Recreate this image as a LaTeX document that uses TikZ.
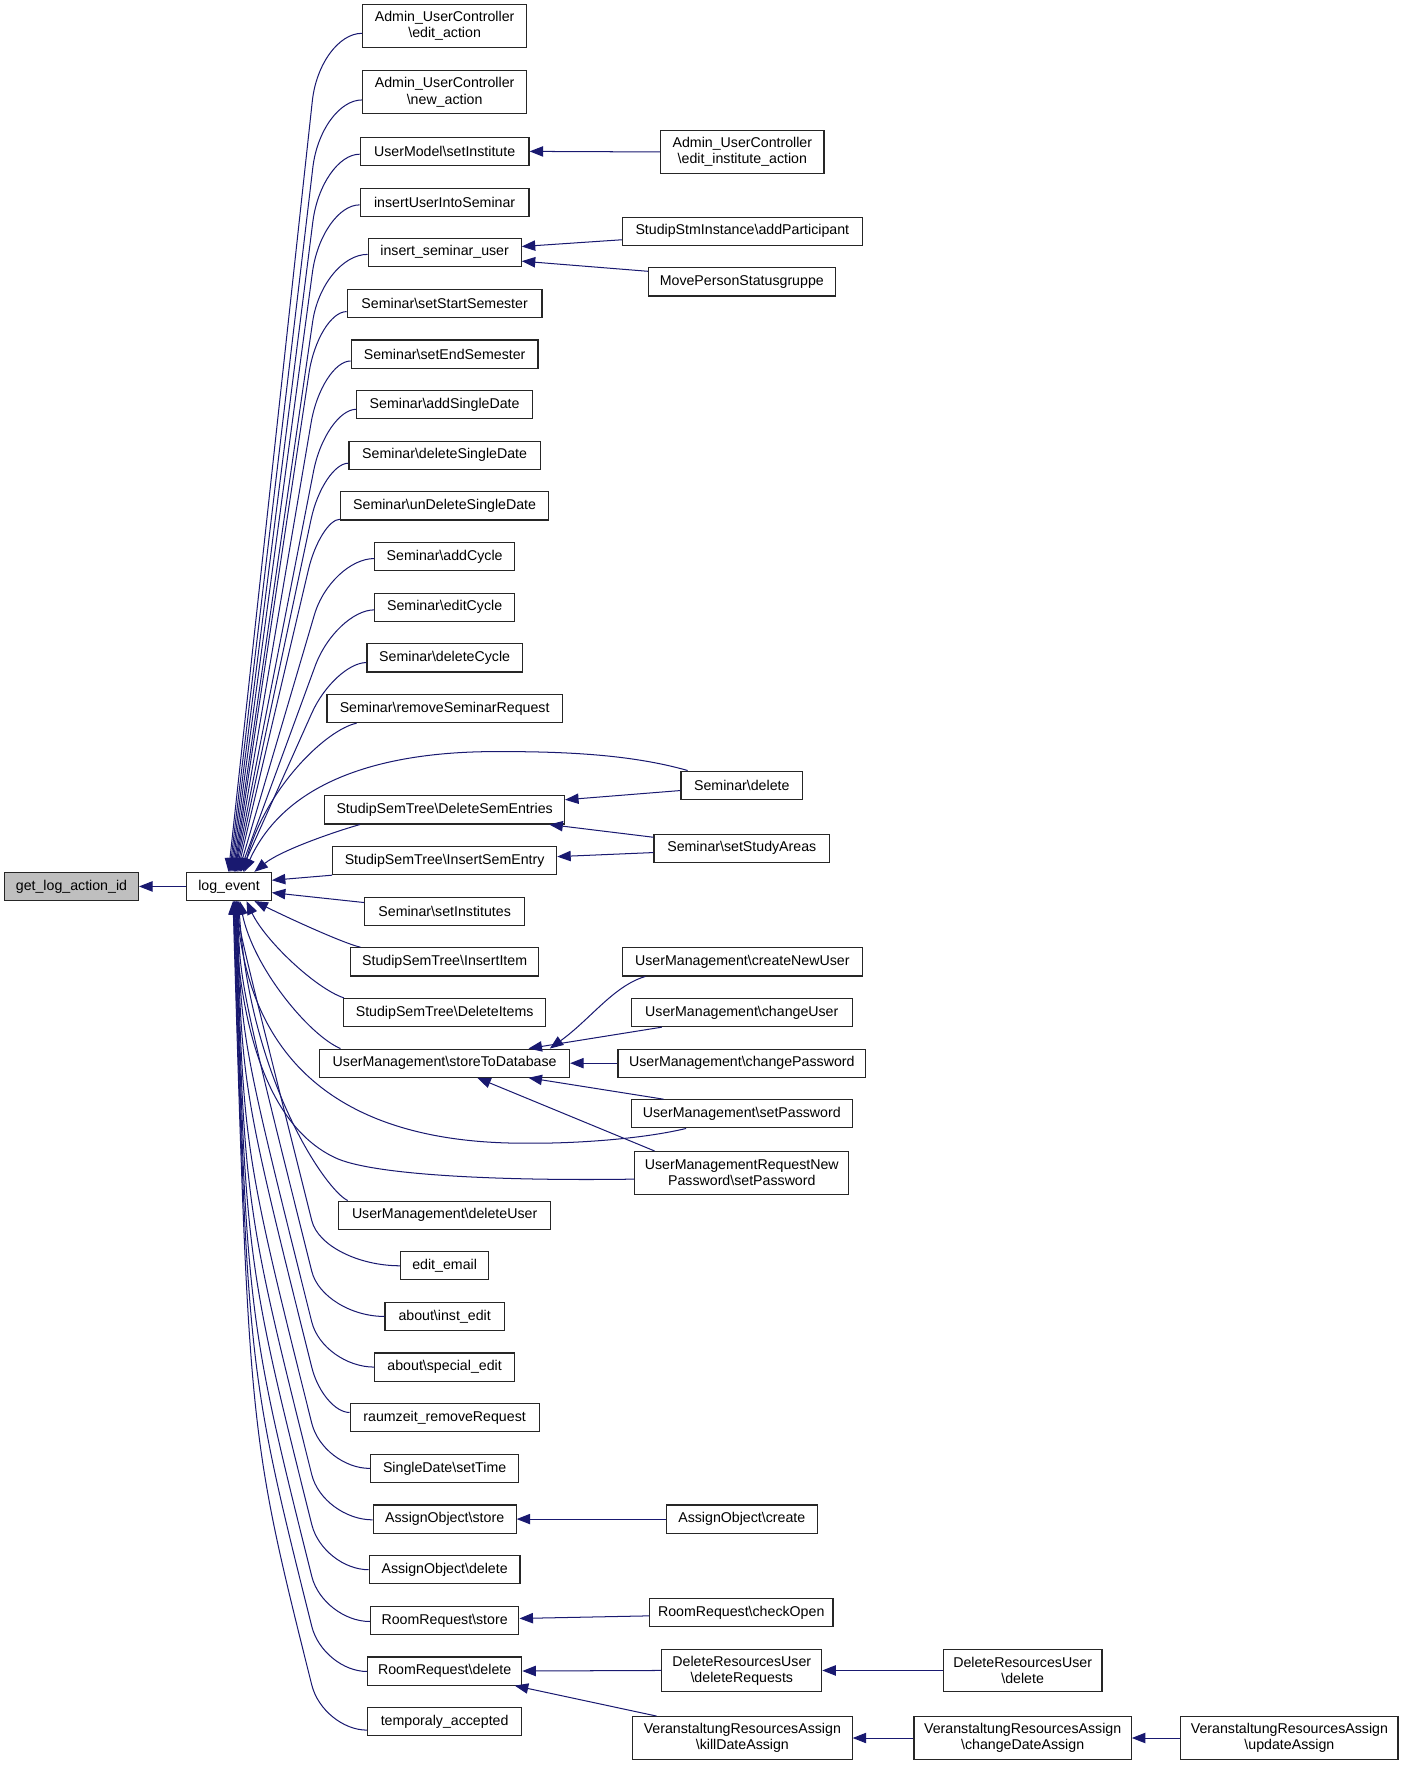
\documentclass[tikz,border=0pt]{standalone}
\usepackage{fontspec}
\newfontfamily\gf{Liberation Sans}
\usetikzlibrary{arrows.meta,calc}
\definecolor{mblue}{HTML}{191970}
\newcommand\bsl{\textbackslash}
% upper fan edge: #1 node, #2 y offset of start on west side, #3 Wx, #4 Wy, #5 Kx, #6 end offset on le.north, #7 bend height
\newcommand\ucurve[7]{%
  \pgfmathsetmacro\uEx{203.5+#6}%
  \pgfmathsetmacro\us{(#5-\uEx)/(775-#4)}%
  \pgfmathsetmacro\uBx{#5-\us*#7}%
  \pgfmathsetmacro\uBy{#4+#7}%
  \pgfmathsetmacro\uCa{#3+0.55*(#5-#3)}%
  \pgfmathsetmacro\uCbx{\uBx+0.55*(#5-\uBx)}%
  \pgfmathsetmacro\uCby{\uBy+0.55*(#4-\uBy)}%
  \draw[edge] ($(#1.west)+(0,#2)$) .. controls (\uCa,#4) and (\uCbx,\uCby) .. (\uBx,\uBy) -- ($(le.north)+(#6,0)$);%
}
% lower fan edge: #1 node, #2 y offset, #3 Wx, #4 Wy, #5 end offset on le.south
\newcommand\lcurve[5]{%
  \pgfmathsetmacro\lEx{203.5+#5}%
  \pgfmathsetmacro\lBx{287-0.25*40}%
  \pgfmathsetmacro\lBy{#4-40}%
  \pgfmathsetmacro\lCy{(\lEx-24-\lBx+0.25*\lBy)/0.22}%
  \pgfmathsetmacro\lCx{\lEx+0.03*(\lCy-800)}%
  \pgfmathsetmacro\lCa{#3+0.55*(287-#3)}%
  \pgfmathsetmacro\lCbx{\lBx+0.55*(287-\lBx)}%
  \pgfmathsetmacro\lCby{\lBy+0.55*(#4-\lBy)}%
  \draw[edge] ($(#1.west)+(0,#2)$) .. controls (\lCa,#4) and (\lCbx,\lCby) .. (\lBx,\lBy) .. controls (\lCx,\lCy) .. ($(le.south)+(#5,0)$);%
}
\begin{document}
\begin{tikzpicture}[x=0.5pt,y=-0.5pt,
 box/.style={draw=black!85, line width=0.5pt, fill=white, font=\gf\fontsize{6.3}{7.2}\selectfont, inner xsep=2pt, inner ysep=2.6pt, minimum height=12.5pt, align=center},
 bw/.style={minimum width=#1*0.5pt},
 two/.style={minimum height=19pt},
 edge/.style={draw=mblue, line width=0.45pt, -{Triangle[length=6pt,width=4.6pt]}}]
\useasboundingbox (0,0) rectangle (1248,1568);
% main nodes
\node[box,fill=gray!50,bw=119] (gl) at (63.5,787.5) {get\_log\_action\_id};
\node[box,bw=75] (le) at (203.5,787.5) {log\_event};
% middle column
\node[box,two,bw=146] (n1) at (395,23) {Admin\_UserController\\\bsl edit\_action};
\node[box,two,bw=146] (n2) at (395,82) {Admin\_UserController\\\bsl new\_action};
\node[box,bw=150] (n3) at (395,134.5) {UserModel\bsl setInstitute};
\node[box,bw=150] (n4) at (395,180) {insertUserIntoSeminar};
\node[box,bw=136] (n5) at (395,224) {insert\_seminar\_user};
\node[box,bw=173] (n6) at (395,269.5) {Seminar\bsl setStartSemester};
\node[box,bw=166] (n7) at (395,314.5) {Seminar\bsl setEndSemester};
\node[box,bw=156] (n8) at (395,359.5) {Seminar\bsl addSingleDate};
\node[box,bw=170] (n9) at (395,404.5) {Seminar\bsl deleteSingleDate};
\node[box,bw=185] (n10) at (395,449.5) {Seminar\bsl unDeleteSingleDate};
\node[box,bw=124] (n11) at (395,494.5) {Seminar\bsl addCycle};
\node[box,bw=124] (n12) at (395,539.5) {Seminar\bsl editCycle};
\node[box,bw=138] (n13) at (395,584.5) {Seminar\bsl deleteCycle};
\node[box,bw=209] (n14) at (395,629.5) {Seminar\bsl removeSeminarRequest};
\node[box,bw=213] (n15) at (395,719.5) {StudipSemTree\bsl DeleteSemEntries};
\node[box,bw=199] (n16) at (395,764.5) {StudipSemTree\bsl InsertSemEntry};
\node[box,bw=142] (n17) at (395,809.5) {Seminar\bsl setInstitutes};
\node[box,bw=167] (n18) at (395,854.5) {StudipSemTree\bsl InsertItem};
\node[box,bw=179] (n19) at (395,899.5) {StudipSemTree\bsl DeleteItems};
\node[box,bw=222] (n20) at (395,944.5) {UserManagement\bsl storeToDatabase};
\node[box,bw=188] (n21) at (395,1079.5) {UserManagement\bsl deleteUser};
\node[box,bw=78] (n22) at (395,1124.5) {edit\_email};
\node[box,bw=106] (n23) at (395,1169.5) {about\bsl inst\_edit};
\node[box,bw=124] (n24) at (395,1214.5) {about\bsl special\_edit};
\node[box,bw=168] (n25) at (395,1259.5) {raumzeit\_removeRequest};
\node[box,bw=132] (n26) at (395,1304.5) {SingleDate\bsl setTime};
\node[box,bw=127] (n27) at (395,1349.5) {AssignObject\bsl store};
\node[box,bw=134] (n28) at (395,1394.5) {AssignObject\bsl delete};
\node[box,bw=132] (n29) at (395,1439.5) {RoomRequest\bsl store};
\node[box,bw=137] (n30) at (395,1484.5) {RoomRequest\bsl delete};
\node[box,bw=137] (n31) at (395,1529.5) {temporaly\_accepted};
% right column
\node[box,two,bw=145] (r1) at (659.5,135) {Admin\_UserController\\\bsl edit\_institute\_action};
\node[box,bw=213] (r2) at (659.5,205.5) {StudipStmInstance\bsl addParticipant};
\node[box,bw=166] (r3) at (659,250.5) {MovePersonStatusgruppe};
\node[box,bw=108] (r4) at (659,697.5) {Seminar\bsl delete};
\node[box,bw=156] (r5) at (659,753.5) {Seminar\bsl setStudyAreas};
\node[box,bw=213] (r6) at (659.5,854.5) {UserManagement\bsl createNewUser};
\node[box,bw=196] (r7) at (659,899.5) {UserManagement\bsl changeUser};
\node[box,bw=220] (r8) at (659,944.5) {UserManagement\bsl changePassword};
\node[box,bw=196] (r9) at (659,989.5) {UserManagement\bsl setPassword};
\node[box,two,bw=190] (r10) at (659,1042) {UserManagementRequestNew\\Password\bsl setPassword};
\node[box,bw=134] (r11) at (659,1349.5) {AssignObject\bsl create};
\node[box,bw=163] (r12) at (658.5,1432.5) {RoomRequest\bsl checkOpen};
\node[box,two,bw=142] (r13) at (659,1484) {DeleteResourcesUser\\\bsl deleteRequests};
\node[box,two,bw=195] (r14) at (659.5,1544) {VeranstaltungResourcesAssign\\\bsl killDateAssign};
% third/fourth columns
\node[box,two,bw=141] (t1) at (908.5,1484) {DeleteResourcesUser\\\bsl delete};
\node[box,two,bw=193] (t2) at (908.5,1544) {VeranstaltungResourcesAssign\\\bsl changeDateAssign};
\node[box,two,bw=193] (t3) at (1145.5,1544) {VeranstaltungResourcesAssign\\\bsl updateAssign};
% edge to get_log_action_id
\draw[edge] (le.west) -- (gl.east);
% upper fan
\ucurve{n1}{6.6}{322}{29.6}{284}{-0.5}{60}
\ucurve{n2}{6.8}{322}{88.8}{285}{0.5}{60}
\ucurve{n3}{2.5}{320}{137}{285.5}{1.5}{60}
\ucurve{n4}{2}{320}{182}{285.6}{2.5}{60}
\ucurve{n5}{2}{327}{226}{286.4}{3.5}{60}
\ucurve{n6}{7.3}{308.5}{276.8}{282.7}{4.5}{55}
\ucurve{n7}{6.2}{312}{320.7}{285.7}{5}{55}
\ucurve{n8}{4.1}{317}{363.6}{289.3}{5.5}{55}
\ucurve{n9}{7}{310}{411.5}{286.9}{6.5}{50}
\ucurve{n10}{11.8}{302.5}{461.3}{284.5}{7.5}{45}
\ucurve{n11}{1.7}{333}{496.2}{294}{8.5}{50}
\ucurve{n12}{2.3}{333}{541.8}{298.2}{9.5}{50}
\ucurve{n13}{4.1}{326}{588.6}{297}{10.5}{45}
\draw[edge] ($(n14.south west)+(26.8,0)$) .. controls (290,648) and (236,700) .. ($(le.north)+(12.5,0)$);
\draw[edge] ($(r4.north west)+(6.4,0)$) .. controls (560,670) and (500,667.5) .. (438,667.7) .. controls (370,668) and (260,680) .. ($(le.north)+(13.5,0)$);
\draw[edge] ($(n15.south west)+(31.8,0)$) .. controls (300,738) and (250,755) .. ($(le.north)+(22.5,0)$);
% right side of log_event
\draw[edge] (n16.south west) -- ($(le.east)+(0,-5.5)$);
\draw[edge] ($(n17.west)+(0,-7.7)$) -- ($(le.east)+(0,5.5)$);
% lower fan
\draw[edge] ($(n18.north west)+(9.3,0)$) .. controls (305,838) and (255,815) .. ($(le.south)+(22.5,0)$);
\draw[edge] ($(n19.north west)+(0.5,0)$) .. controls (280,878) and (235,835) .. ($(le.south)+(15.5,0)$);
\draw[edge] ($(n20.north west)+(19,0)$) .. controls (275,920) and (225,860) .. ($(le.south)+(9.5,0)$);
\draw[edge] ($(n21.north west)+(8.4,0)$) .. controls (290,1058) and (222,960) .. ($(le.south)+(8.5,0)$);
\draw[edge] ($(r9.south west)+(49,0)$) .. controls (570,1012) and (510,1016) .. (467.8,1015.6) .. controls (360,1016) and (225,985) .. ($(le.south)+(6.5,0)$);
\draw[edge] ($(r10.west)+(0,5.5)$) .. controls (470,1049) and (340,1046) .. (300,1029.5) .. controls (255,1010) and (215,950) .. ($(le.south)+(4.5,0)$);
\lcurve{n22}{0}{356}{1124.5}{8}
\lcurve{n23}{0}{342}{1169.5}{7.5}
\lcurve{n24}{0}{333}{1214.5}{7}
\lcurve{n25}{-4.7}{311}{1254.8}{6.5}
\lcurve{n26}{0}{329}{1304.5}{6}
\lcurve{n27}{0.7}{331.5}{1350.2}{5.5}
\lcurve{n28}{0}{328}{1394.5}{5}
\lcurve{n29}{1}{329}{1440.5}{4.5}
\lcurve{n30}{0.4}{326.5}{1484.9}{4}
\lcurve{n31}{7.5}{326.5}{1537}{3.5}
% right column to middle column
\draw[edge] (r1.west) -- (n3.east);
\draw[edge] ($(r2.west)+(0,7.5)$) -- ($(n5.east)+(0,-5)$);
\draw[edge] ($(r3.west)+(0,-9.5)$) -- ($(n5.east)+(0,8)$);
\draw[edge] ($(r4.west)+(0,4.8)$) -- ($(n15.east)+(0,-9)$);
\draw[edge] ($(r5.west)+(0,-9.7)$) -- ($(n15.south east)+(-14,0)$);
\draw[edge] ($(r5.west)+(0,3.9)$) -- ($(n16.east)+(0,-3.5)$);
\draw[edge] ($(r6.south west)+(20.7,0)$) .. controls (545,876) and (525,905) .. ($(n20.north east)+(-18,0)$);
\draw[edge] ($(r7.south west)+(27.5,0)$) -- ($(n20.north east)+(-37,0)$);
\draw[edge] (r8.west) -- (n20.east);
\draw[edge] ($(r9.north west)+(29,0)$) -- ($(n20.south east)+(-37,0)$);
\draw[edge] ($(r10.north west)+(18,0)$) -- ($(n20.south)+(29,0)$);
\draw[edge] (r11.west) -- (n27.east);
\draw[edge] ($(r12.west)+(0,3)$) -- ($(n29.east)+(0,-1.7)$);
\draw[edge] (r13.west) -- (n30.east);
\draw[edge] ($(r14.north west)+(21.7,0)$) -- ($(n30.south east)+(-6.7,0)$);
\draw[edge] (t1.west) -- (r13.east);
\draw[edge] (t2.west) -- (r14.east);
\draw[edge] (t3.west) -- (t2.east);
\end{tikzpicture}
\end{document}
